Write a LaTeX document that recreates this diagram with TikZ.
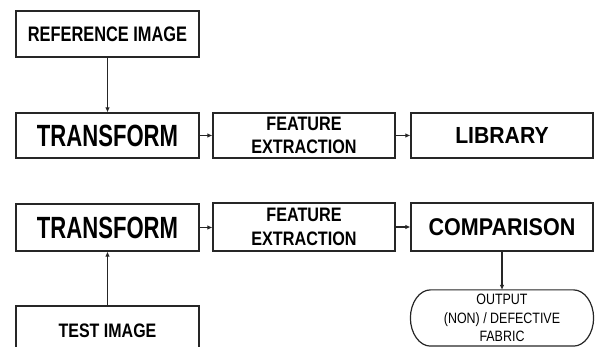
\documentclass[tikz,border=0pt]{standalone}
\usepackage{fontspec}
\setmainfont{Liberation Sans}
\usetikzlibrary{arrows.meta,calc}
\newcommand{\nfont}[3]{\fontsize{#1}{#2}\selectfont\addfontfeatures{FakeStretch=#3}}
\definecolor{ln}{HTML}{262626}
\tikzset{
  boxnode/.style={draw=ln, line width=1.2pt, minimum width=183pt, minimum height=45pt, inner sep=0pt, align=center, text=black},
  conn/.style={draw=ln, line width=1.1pt, -{Latex[length=5pt,width=4.5pt]}},
}
\begin{document}
\begin{tikzpicture}[x=1pt,y=-1pt]
\useasboundingbox (0,0) rectangle (595,347);
\clip (0,0) rectangle (595,347);
\node[boxnode, minimum height=46pt, font=\bfseries\nfont{21}{21}{0.78}] (ref) at (107.5,34) {REFERENCE IMAGE};
\node[boxnode, font=\bfseries\nfont{30.7}{30.7}{0.72}] (tr1) at (107.5,135.5) {TRANSFORM};
\node[boxnode, minimum width=182pt, font=\bfseries\nfont{19.5}{23.3}{0.83}] (fe1) at (304,135.5) {FEATURE\\EXTRACTION};
\node[boxnode, minimum width=182pt, font=\bfseries\nfont{23.3}{23.3}{0.91}] (lib) at (502,135.5) {LIBRARY};
\node[boxnode, minimum height=47pt, font=\bfseries\nfont{30.7}{30.7}{0.72}] (tr2) at (107.5,227.5) {TRANSFORM};
\node[boxnode, minimum width=182pt, minimum height=48pt, font=\bfseries\nfont{19.5}{23.3}{0.83}] (fe2) at (304,227) {FEATURE\\EXTRACTION};
\node[boxnode, minimum width=182pt, minimum height=48pt, font=\bfseries\nfont{24.2}{24.2}{0.89}] (cmp) at (502,227) {COMPARISON};
\node[boxnode, minimum height=50pt, font=\bfseries\nfont{19.5}{19.5}{0.82}] (test) at (107.5,331) {TEST IMAGE};
\node[boxnode, draw=none, minimum width=182pt, minimum height=55pt, font=\nfont{15}{18.3}{0.83}] (out) at (502,318) {OUTPUT\\(NON) / DEFECTIVE\\FABRIC};
\draw[draw=ln, line width=1.2pt]
  ($(out.north west)+(20,0)$) -- ($(out.north east)+(-20,0)$)
  .. controls ($(out.north east)+(-8.95,0)$) and ($(out.east)+(0,-15.2)$) .. (out.east)
  .. controls ($(out.east)+(0,15.2)$) and ($(out.south east)+(-8.95,0)$) .. ($(out.south east)+(-20,0)$)
  -- ($(out.south west)+(20,0)$)
  .. controls ($(out.south west)+(8.95,0)$) and ($(out.west)+(0,15.2)$) .. (out.west)
  .. controls ($(out.west)+(0,-15.2)$) and ($(out.north west)+(8.95,0)$) .. ($(out.north west)+(20,0)$) -- cycle;
\draw[conn] (ref) -- (tr1);
\draw[conn] (tr1) -- (fe1);
\draw[conn] (fe1) -- (lib);
\draw[conn] (test) -- (tr2);
\draw[conn] (tr2.east) -- (tr2.east -| fe2.west);
\draw[conn] (fe2.east) -- (fe2.east -| cmp.west);
\draw[conn] (cmp) -- (out.north);
\end{tikzpicture}
\end{document}
